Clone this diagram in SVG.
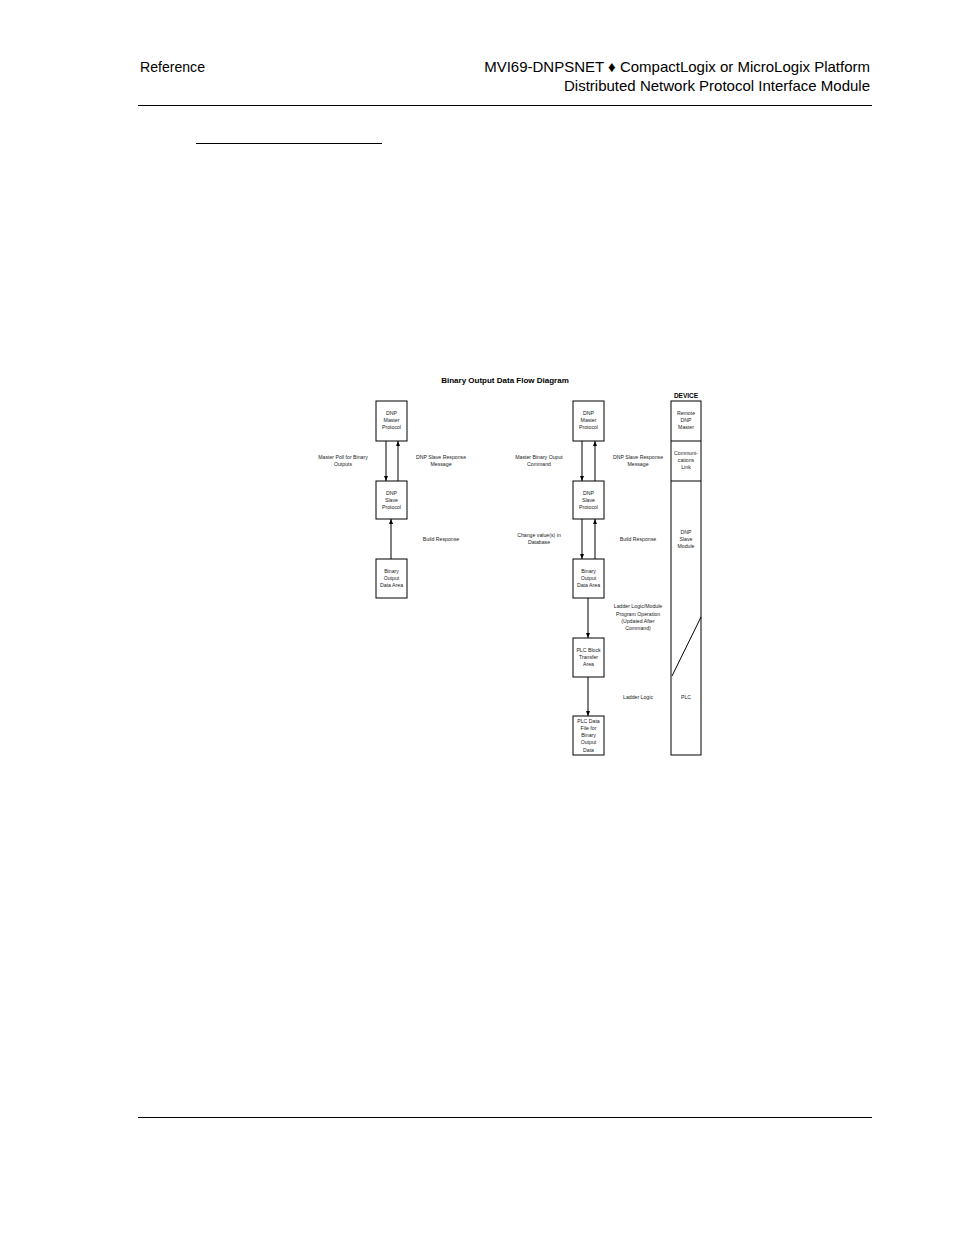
<svg xmlns="http://www.w3.org/2000/svg" width="954" height="1235" viewBox="0 0 954 1235">
<style>
.h{font-family:"Liberation Sans Narrow","Liberation Sans",sans-serif;font-size:15px;fill:#000}
.t{font-family:"Liberation Sans",Arial,sans-serif;font-size:5.2px;fill:#222;text-anchor:middle}
.b{fill:#fff;stroke:#000;stroke-width:1}
.c{stroke:#000;stroke-width:1;fill:none;marker-end:url(#a)}
</style>
<defs><marker id="a" markerWidth="6" markerHeight="6" refX="5" refY="3" orient="auto" markerUnits="userSpaceOnUse"><path d="M0,1 L5,3 L0,5 Z" fill="#000"/></marker></defs>
<rect width="954" height="1235" fill="#fff"/>
<g id="header">
<text class="h" x="140" y="72" textLength="65" lengthAdjust="spacingAndGlyphs">Reference</text>
<text class="h" x="870" y="72" text-anchor="end">MVI69-DNPSNET ♦ CompactLogix or MicroLogix Platform</text>
<text class="h" x="870" y="91" text-anchor="end">Distributed Network Protocol Interface Module</text>
<line x1="138" y1="105.5" x2="872" y2="105.5" stroke="#000"/>
<line x1="196" y1="143.5" x2="382" y2="143.5" stroke="#000"/>
<line x1="138" y1="1117.5" x2="872" y2="1117.5" stroke="#000"/>
</g>
<text x="505" y="383" text-anchor="middle" font-family="Liberation Sans,sans-serif" font-size="8" font-weight="bold">Binary Output Data Flow Diagram</text>
<g id="connectors">
<line class="c" x1="386" y1="441" x2="386" y2="481"/>
<line class="c" x1="398" y1="481" x2="398" y2="441" stroke="#999"/>
<line class="c" x1="391" y1="559" x2="391" y2="519"/>
<line class="c" x1="582" y1="441" x2="582" y2="481"/>
<line class="c" x1="595" y1="481" x2="595" y2="441"/>
<line class="c" x1="582" y1="519" x2="582" y2="559"/>
<line class="c" x1="595" y1="559" x2="595" y2="519"/>
<line class="c" x1="588" y1="598" x2="588" y2="638"/>
<line class="c" x1="588" y1="677" x2="588" y2="716"/>
</g>
<g id="labels">
<text class="t" x="343" y="459">Master Poll for Binary</text><text class="t" x="343" y="466">Outputs</text>
<text class="t" x="441" y="459">DNP Slave Response</text><text class="t" x="441" y="466">Message</text>
<text class="t" x="441" y="541">Build Response</text>
<text class="t" x="539" y="459">Master Binary Ouput</text><text class="t" x="539" y="466">Command</text>
<text class="t" x="638" y="459">DNP Slave Response</text><text class="t" x="638" y="466">Message</text>
<text class="t" x="539" y="537">Change value(s) in</text><text class="t" x="539" y="544">Database</text>
<text class="t" x="638" y="541">Build Response</text>
<text class="t" x="638" y="608">Ladder Logic/Module</text><text class="t" x="638" y="616">Program Operation</text><text class="t" x="638" y="623">(Updated After</text><text class="t" x="638" y="630">Command)</text>
<text class="t" x="638" y="699">Ladder Logic</text>
</g>
<g id="n1"><rect class="b" x="376" y="401" width="31" height="40"/><text class="t" x="391.5" y="415">DNP</text><text class="t" x="391.5" y="422">Master</text><text class="t" x="391.5" y="429">Protocol</text></g>
<g id="n2"><rect class="b" x="376" y="481" width="31" height="38"/><text class="t" x="391.5" y="495">DNP</text><text class="t" x="391.5" y="502">Slave</text><text class="t" x="391.5" y="509">Protocol</text></g>
<g id="n3"><rect class="b" x="376" y="559" width="31" height="39"/><text class="t" x="391.5" y="573">Binary</text><text class="t" x="391.5" y="580">Output</text><text class="t" x="391.5" y="587">Data Area</text></g>
<g id="n4"><rect class="b" x="573" y="401" width="31" height="40"/><text class="t" x="588.5" y="415">DNP</text><text class="t" x="588.5" y="422">Master</text><text class="t" x="588.5" y="429">Protocol</text></g>
<g id="n5"><rect class="b" x="573" y="481" width="31" height="38"/><text class="t" x="588.5" y="495">DNP</text><text class="t" x="588.5" y="502">Slave</text><text class="t" x="588.5" y="509">Protocol</text></g>
<g id="n6"><rect class="b" x="573" y="559" width="31" height="39"/><text class="t" x="588.5" y="573">Binary</text><text class="t" x="588.5" y="580">Output</text><text class="t" x="588.5" y="587">Data Area</text></g>
<g id="n7"><rect class="b" x="573" y="638" width="31" height="39"/><text class="t" x="588.5" y="652">PLC Block</text><text class="t" x="588.5" y="659">Transfer</text><text class="t" x="588.5" y="666">Area</text></g>
<g id="n8"><rect class="b" x="573" y="716" width="31" height="39"/><text class="t" x="588.5" y="723">PLC Data</text><text class="t" x="588.5" y="730">File for</text><text class="t" x="588.5" y="737">Binary</text><text class="t" x="588.5" y="744">Output</text><text class="t" x="588.5" y="752">Data</text></g>
<g id="device">
<text x="686" y="398" text-anchor="middle" font-family="Liberation Sans,sans-serif" font-size="6.5" font-weight="bold">DEVICE</text>
<rect class="b" x="671" y="401" width="30" height="354"/>
<line x1="671" y1="441" x2="701" y2="441" stroke="#000"/>
<line x1="671" y1="481" x2="701" y2="481" stroke="#000"/>
<line x1="701" y1="617" x2="672" y2="676" stroke="#000"/>
<text class="t" x="686" y="415">Remote</text><text class="t" x="686" y="422">DNP</text><text class="t" x="686" y="429">Master</text>
<text class="t" x="686" y="455">Communi-</text><text class="t" x="686" y="462">cations</text><text class="t" x="686" y="469">Link</text>
<text class="t" x="686" y="534">DNP</text><text class="t" x="686" y="541">Slave</text><text class="t" x="686" y="548">Module</text>
<text class="t" x="686" y="699">PLC</text>
</g>
</svg>
